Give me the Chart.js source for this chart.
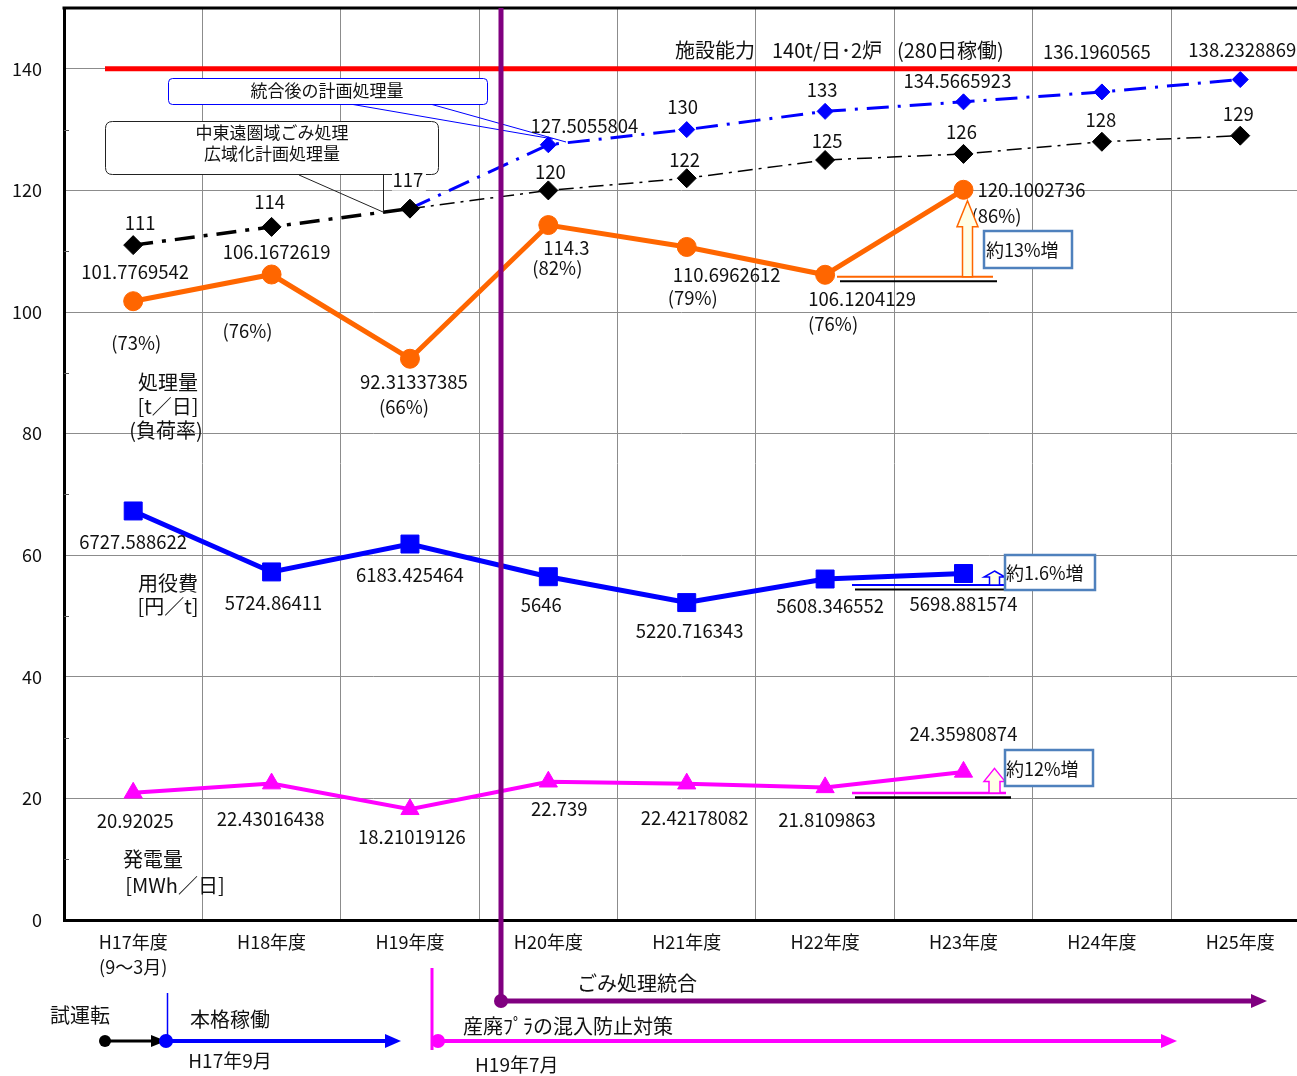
<!DOCTYPE html>
<html><head><meta charset="utf-8">
<script src="https://cdn.jsdelivr.net/npm/chart.js@4"></script>
<style>
html,body{margin:0;padding:0;background:#fff;overflow:hidden;}
#wrap{width:1297px;height:1076px;position:relative;}
canvas{display:block;}
</style></head><body>
<div id="wrap"><canvas id="c"></canvas></div>
<script>
// ---------- data ----------
const categories = [['H17年度','(9～3月)'],'H18年度','H19年度','H20年度','H21年度','H22年度','H23年度','H24年度','H25年度'];
const yTicks = [0,20,40,60,80,100,120,140];
const capacity = 140;
const plannedRegional = [111,114,117,120,122,125,126,128,129];
const plannedIntegrated = [null,null,117,127.5055804,130,133,134.5665923,136.1960565,138.2328869];
const processed = [101.7769542,106.1672619,92.31337385,114.3,110.6962612,106.1204129,120.1002736,null,null];
const loadRate = ['(73%)','(76%)','(66%)','(82%)','(79%)','(76%)','(86%)'];
const utilityCost = [6727.588622,5724.86411,6183.425464,5646,5220.716343,5608.346552,5698.881574,null,null];
const power = [20.92025,22.43016438,18.21019126,22.739,22.42178082,21.8109863,24.35980874,null,null];
const costScale = 100; // 用役費 plotted as 円/t ÷ 100

// ---------- layout (x range in category units; right edge is cut by the picture) ----------
const xMin = -0.5, xMax = 8.41;

// ---------- label placement (pixel offsets from point) ----------
const offRegional = [[7,-22],[-2,-25],[-2,-29],[2,-18],[-2,-18],[2,-19],[-2,-22],[-1,-22],[-2,-22]];
const offIntegrated = [null,null,null,[36,-19],[-4,-23],[-3,-21],[-6,-21],[-5,-40],[2,-30]];
const offProcessed = [[2,-29],[5,-23],[4,23],[18,23],[40,28],[37,24],[68,0]];
const offRate = [[3,42],[-24,56],[-6,48],[9,43],[6,51],[8,49],[33,26]];
const offCost = [[0,31],[2,31],[0,31],[-7,28],[3,28],[5,27],[0,30]];
const offPower = [[2,28],[-1,35],[2,28],[11,27],[8,34],[2,33],[0,-38]];

const FONT = '"Noto Sans CJK JP", "Noto Sans", sans-serif';
const NUM = 18.5;
Chart.defaults.font.family = FONT;
Chart.defaults.font.size = 18;
Chart.defaults.color = '#111';

function txt(ctx, s, x, y, size, align, color) {
  ctx.save();
  ctx.font = (size||18) + 'px ' + FONT;
  ctx.fillStyle = color || '#111';
  ctx.textAlign = align || 'center';
  ctx.textBaseline = 'middle';
  ctx.fillText(s, x, y);
  ctx.restore();
}
function line(ctx, x1, y1, x2, y2, w, c) {
  ctx.save(); ctx.beginPath(); ctx.moveTo(x1,y1); ctx.lineTo(x2,y2);
  ctx.lineWidth = w; ctx.strokeStyle = c; ctx.stroke(); ctx.restore();
}
function rrect(ctx, x, y, w, h, r, stroke, lw, fill) {
  ctx.save(); ctx.beginPath();
  ctx.moveTo(x+r,y); ctx.lineTo(x+w-r,y); ctx.quadraticCurveTo(x+w,y,x+w,y+r);
  ctx.lineTo(x+w,y+h-r); ctx.quadraticCurveTo(x+w,y+h,x+w-r,y+h);
  ctx.lineTo(x+r,y+h); ctx.quadraticCurveTo(x,y+h,x,y+h-r);
  ctx.lineTo(x,y+r); ctx.quadraticCurveTo(x,y,x+r,y); ctx.closePath();
  if (fill) { ctx.fillStyle = fill; ctx.fill(); }
  ctx.lineWidth = lw; ctx.strokeStyle = stroke; ctx.stroke(); ctx.restore();
}
function dot(ctx, x, y, r, c) {
  ctx.save(); ctx.beginPath(); ctx.arc(x,y,r,0,Math.PI*2); ctx.fillStyle=c; ctx.fill(); ctx.restore();
}
function hArrow(ctx, x1, x2, y, w, c, headLen, headHalf) {
  line(ctx, x1, y, x2 - headLen + 1, y, w, c);
  ctx.save(); ctx.beginPath();
  ctx.moveTo(x2, y); ctx.lineTo(x2 - headLen, y - headHalf); ctx.lineTo(x2 - headLen, y + headHalf); ctx.closePath();
  ctx.fillStyle = c; ctx.fill(); ctx.restore();
}
function upArrow(ctx, cx, tipY, baseY, sh, hh, hl, stroke) {
  ctx.save(); ctx.beginPath();
  ctx.moveTo(cx, tipY);
  ctx.lineTo(cx + hh, tipY + hl);
  ctx.lineTo(cx + sh, tipY + hl);
  ctx.lineTo(cx + sh, baseY);
  ctx.lineTo(cx - sh, baseY);
  ctx.lineTo(cx - sh, tipY + hl);
  ctx.lineTo(cx - hh, tipY + hl);
  ctx.closePath();
  ctx.fillStyle = '#FFFFE6'; ctx.fill();
  ctx.lineWidth = 1.5; ctx.strokeStyle = stroke; ctx.stroke(); ctx.restore();
}

const deco = {
  id: 'deco',
  beforeDraw(chart) {
    const ctx = chart.ctx;
    ctx.save(); ctx.fillStyle = '#fff'; ctx.fillRect(0,0,chart.width,chart.height); ctx.restore();
  },
  afterDatasetsDraw(chart) {
    const ctx = chart.ctx, ca = chart.chartArea, ys = chart.scales.y;
    for (let v = 10; v < 150; v += 20) {
      const y = Math.round(ys.getPixelForValue(v)) + 0.5;
      line(ctx, ca.left, y, ca.left + 5, y, 1, '#555');
    }
    line(ctx, ca.left - 1.5, ca.top, ca.right, ca.top, 3, '#000');
    const yc = ys.getPixelForValue(capacity);
    line(ctx, 105, yc, ca.right, yc, 5, '#FF0000');
    txt(ctx, '施設能力', 675, 50, 20, 'left');
    txt(ctx, '140t/日･2炉', 772, 50, 20, 'left');
    txt(ctx, '(280日稼働)', 897, 50, 20, 'left');

    rrect(ctx, 168.5, 78.5, 319, 26, 4, '#0000FF', 1, '#fff');
    txt(ctx, '統合後の計画処理量', 327, 91, 17);
    line(ctx, 353, 104.5, 553, 139, 1, '#0000FF');
    line(ctx, 432, 104.5, 566, 142, 1, '#0000FF');

    rrect(ctx, 105.5, 121.5, 333, 53, 7, '#222', 1, '#fff');
    txt(ctx, '中東遠圏域ごみ処理', 272, 133, 17);
    txt(ctx, '広域化計画処理量', 272, 154, 17);
    line(ctx, 299, 175, 383, 212, 1, '#222');
    line(ctx, 383.5, 175, 383.5, 212, 1, '#222');

    const metas = {};
    chart.data.datasets.forEach((d, i) => { metas[d.id] = chart.getDatasetMeta(i).data; });

    plannedRegional.forEach((v, i) => {
      const p = metas.regional[i], o = offRegional[i];
      if (i === 2) { ctx.save(); ctx.fillStyle='#fff'; ctx.fillRect(p.x+o[0]-16, p.y+o[1]-11, 34, 22); ctx.restore(); }
      txt(ctx, String(v), p.x + o[0], p.y + o[1], NUM);
    });
    plannedIntegrated.forEach((v, i) => {
      if (v == null || !offIntegrated[i]) return;
      const p = metas.integrated[i], o = offIntegrated[i];
      txt(ctx, String(v), p.x + o[0], p.y + o[1], NUM);
    });
    processed.forEach((v, i) => {
      if (v == null) return;
      const p = metas.processed[i], o = offProcessed[i], r = offRate[i];
      txt(ctx, String(v), p.x + o[0], p.y + o[1], NUM);
      txt(ctx, loadRate[i], p.x + r[0], p.y + r[1], NUM);
    });
    utilityCost.forEach((v, i) => {
      if (v == null) return;
      const p = metas.cost[i], o = offCost[i];
      txt(ctx, String(v), p.x + o[0], p.y + o[1], NUM);
    });
    power.forEach((v, i) => {
      if (v == null) return;
      const p = metas.power[i], o = offPower[i];
      txt(ctx, String(v), p.x + o[0], p.y + o[1], NUM);
    });

    const pA = metas.processed[5], pB = metas.processed[6];
    line(ctx, 837, pA.y + 2, 993, pA.y + 2, 2, '#FF6600');
    line(ctx, 840, pA.y + 6.5, 997, pA.y + 6.5, 2, '#000');
    upArrow(ctx, 967.5, pB.y + 11, pA.y + 2, 5, 10.5, 26, '#FF6600');
    rrect(ctx, 984, 231, 88, 37, 0, '#4F81BD', 2.5, '#fff');
    txt(ctx, '約13%増', 986, 250, 18, 'left');

    const cA = metas.cost[5];
    line(ctx, 852, cA.y + 6, 1004, cA.y + 6, 2, '#0000FF');
    line(ctx, 855, cA.y + 10.5, 1004, cA.y + 10.5, 2, '#000');
    upArrow(ctx, 994.5, cA.y - 8, cA.y + 6, 5, 10.5, 6, '#0000FF');
    rrect(ctx, 1005, 555, 90, 35, 0, '#4F81BD', 2.5, '#fff');
    txt(ctx, '約1.6%増', 1006, 573, 18, 'left');

    const wA = metas.power[5];
    line(ctx, 852, wA.y + 5.5, 1006, wA.y + 5.5, 2.5, '#FF00FF');
    line(ctx, 855, wA.y + 10, 1011, wA.y + 10, 2.5, '#000');
    upArrow(ctx, 994.5, wA.y - 19, wA.y + 5.5, 5.5, 10.5, 13, '#FF00FF');
    rrect(ctx, 1005, 750, 88, 36, 0, '#4F81BD', 2.5, '#fff');
    txt(ctx, '約12%増', 1006, 769, 18, 'left');

    txt(ctx, '処理量', 168, 382, 20);
    txt(ctx, '[t／日]', 168, 406, 20);
    txt(ctx, '(負荷率)', 166, 430, 20);
    txt(ctx, '用役費', 168, 583, 20);
    txt(ctx, '[円／t]', 168, 606, 20);
    txt(ctx, '発電量', 153, 859, 20);
    txt(ctx, '[MWh／日]', 175, 885, 20);
  },
  afterDraw(chart) {
    const ctx = chart.ctx, ca = chart.chartArea;
    txt(ctx, '試運転', 80, 1015, 20);
    dot(ctx, 105, 1041, 6, '#000');
    hArrow(ctx, 105, 166, 1041, 3, '#000', 15, 6);
    line(ctx, 167.5, 993, 167.5, 1041, 1.5, '#0000FF');
    dot(ctx, 166, 1041, 7, '#0000FF');
    hArrow(ctx, 166, 401, 1041, 4, '#0000FF', 16, 7);
    txt(ctx, '本格稼働', 230, 1019, 20);
    txt(ctx, 'H17年9月', 230, 1061, 19);
    line(ctx, 432, 968, 432, 1050, 3, '#FF00FF');
    dot(ctx, 438, 1041, 7, '#FF00FF');
    hArrow(ctx, 438, 1177, 1041, 4, '#FF00FF', 16, 7);
    txt(ctx, '産廃ﾌﾟﾗの混入防止対策', 463, 1026, 20, 'left');
    txt(ctx, 'H19年7月', 475, 1065, 19, 'left');
    line(ctx, 501, ca.top, 501, 1001, 5, '#800080');
    dot(ctx, 501, 1001, 7, '#800080');
    hArrow(ctx, 501, 1267, 1001, 5, '#800080', 16, 7);
    txt(ctx, 'ごみ処理統合', 637, 983, 20);
  }
};

const costPlot = utilityCost.map(v => v == null ? null : v / costScale);

new Chart(document.getElementById('c'), {
  type: 'line',
  data: {
    labels: categories.map((c, i) => i),
    datasets: [
      { id: 'integrated', data: plannedIntegrated, order: 5, borderColor: '#0000FF', borderWidth: 3,
        borderDash: [22, 9, 3, 9], pointStyle: 'rectRot', pointRadius: plannedIntegrated.map((v,i) => i < 3 ? 0 : 8),
        pointBackgroundColor: '#0000FF', pointBorderColor: '#0000FF', pointBorderWidth: 1, tension: 0 },
      { id: 'regional', data: plannedRegional, order: 4, borderColor: '#000', borderWidth: 1.5,
        segment: { borderWidth: c => c.p0DataIndex < 2 ? 3.5 : 1.5, borderDash: c => c.p0DataIndex < 2 ? [20, 9, 4, 9] : [15, 6, 3, 6] },
        pointStyle: 'rectRot', pointRadius: 9.5, pointBackgroundColor: '#000', pointBorderColor: '#000', pointBorderWidth: 1, tension: 0 },
      { id: 'processed', data: processed, order: 1, borderColor: '#FF6600', borderWidth: 5,
        pointStyle: 'circle', pointRadius: 9.5, pointBackgroundColor: '#FF6600', pointBorderColor: '#FF6600', pointBorderWidth: 1, tension: 0 },
      { id: 'cost', data: costPlot, order: 2, borderColor: '#0000FF', borderWidth: 5,
        pointStyle: 'rect', pointRadius: 12.7, pointBackgroundColor: '#0000FF', pointBorderColor: '#0000FF', pointBorderWidth: 1, tension: 0 },
      { id: 'power', data: power, order: 3, borderColor: '#FF00FF', borderWidth: 4,
        pointStyle: 'triangle', pointRadius: 10.5, pointBackgroundColor: '#FF00FF', pointBorderColor: '#FF00FF', pointBorderWidth: 1, tension: 0 }
    ]
  },
  options: {
    responsive: true,
    maintainAspectRatio: false,
    devicePixelRatio: 1,
    animation: false,
    events: [],
    layout: { autoPadding: false, padding: { top: 8, left: 0, right: 0, bottom: 0 } },
    plugins: { legend: { display: false }, tooltip: { enabled: false } },
    scales: {
      x: {
        type: 'linear',
        min: xMin, max: xMax,
        afterBuildTicks(s) { const t = []; for (let v = xMin; v <= xMax + 1e-9; v += 0.5) t.push({ value: v }); s.ticks = t; },
        grid: { color: c => Number.isInteger(c.tick.value) ? 'rgba(0,0,0,0)' : '#8c8c8c', lineWidth: 1, drawTicks: false },
        border: { display: true, color: '#000', width: 3 },
        ticks: { padding: 10, maxRotation: 0, minRotation: 0, autoSkip: false, color: '#111', font: { size: 18, lineHeight: 1.39 },
          callback: v => Number.isInteger(v) ? categories[v] : '' },
        afterFit(s) { s.height = 156; s.paddingLeft = 0; s.paddingRight = 0; }
      },
      y: {
        min: 0, max: 150,
        afterBuildTicks(s) { const t = []; for (let v = 0; v <= 150; v += 10) t.push({ value: v }); s.ticks = t; },
        ticks: { padding: 22, color: '#111', font: { size: 18 },
          callback: v => v >= 150 ? null : (yTicks.includes(v) ? String(v) : '') },
        grid: { drawTicks: false, lineWidth: 1,
          color: c => (yTicks.includes(c.tick.value) && c.tick.value > 0) ? '#8c8c8c' : 'rgba(0,0,0,0)' },
        border: { display: true, color: '#000', width: 3 },
        afterFit(s) { s.width = 64; s.paddingTop = 0; s.paddingBottom = 0; }
      }
    }
  },
  plugins: [deco]
});
</script></body></html>
